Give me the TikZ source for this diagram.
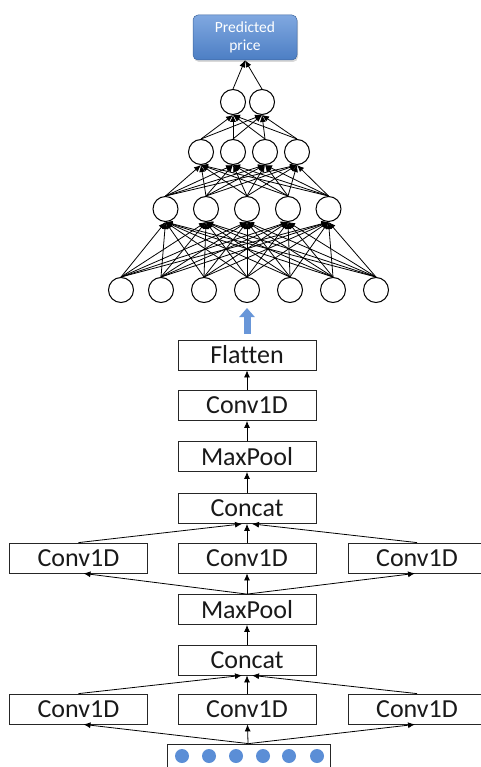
\documentclass[tikz,border=0pt]{standalone}
\usepackage{fontspec}
\setmainfont{Carlito}[Ligatures=NoCommon]
\usetikzlibrary{arrows.meta,shadows}
\definecolor{dotblue}{RGB}{91,142,214}
\definecolor{arrowblue}{RGB}{104,150,216}
\definecolor{predtop}{RGB}{128,168,224}
\definecolor{predbot}{RGB}{76,126,196}
\tikzset{
	layer/.style={draw=black!85, line width=0.8pt, minimum width=138pt, minimum height=30pt,
		inner sep=0pt, font=\fontsize{26}{28}\selectfont, text=black!90},
	neuron/.style={draw, circle, line width=1pt, minimum size=25pt, inner sep=0pt},
	edge/.style={-{Latex[length=7pt,width=6pt]}, line width=0.8pt},
	flow/.style={-{Latex[length=7pt,width=6pt]}, line width=0.8pt},
}

\begin{document}
\begin{tikzpicture}[x=1pt,y=-1pt]
	\clip (0,0) rectangle (481,767);
	% output box
	\node[rounded corners=5pt, top color=predtop, bottom color=predbot, draw=predbot!80!black,
		line width=0.5pt, minimum width=104pt, minimum height=45pt, align=center, text=white,
		font=\fontsize{15.5}{18}\selectfont,
		drop shadow={opacity=0.3, shadow xshift=1pt, shadow yshift=-2pt}]
		(pred) at (245,37.5) {Predicted\\price};
	% dense layers
	\foreach \x [count=\k] in {121,161,204,247,290,333,376}
		\node[neuron] (i\k) at (\x,290) {};
	\foreach \x [count=\k] in {165.5,206,247,288,328.5}
		\node[neuron] (a\k) at (\x,209) {};
	\foreach \x [count=\k] in {201,233,265,297}
		\node[neuron] (b\k) at (\x,152) {};
	\foreach \x [count=\k] in {233,262}
		\node[neuron] (c\k) at (\x,102) {};
	\foreach \s in {1,...,7}
		\foreach \t in {1,...,5}
			\draw[edge] (i\s.north) -- (a\t.south);
	\foreach \s in {1,...,5}
		\foreach \t in {1,...,4}
			\draw[edge] (a\s.north) -- (b\t.south);
	\foreach \s in {1,...,4}
		\foreach \t in {1,2}
			\draw[edge] (b\s.north) -- (c\t.south);
	\foreach \s in {1,2}
		\draw[edge] (c\s.north) -- (pred.south);
	% conv stack
	\node[layer] (flatten) at (247,355) {Flatten};
	\node[layer] (conv) at (247,405.5) {Conv1D};
	\node[layer] (pooltwo) at (247,456.5) {MaxPool};
	\node[layer] (cattwo) at (247,508.5) {Concat};
	\node[layer] (convltwo) at (78.5,558) {Conv1D};
	\node[layer] (convmtwo) at (247,558) {Conv1D};
	\node[layer] (convrtwo) at (417,558) {Conv1D};
	\node[layer] (poolone) at (247,609.5) {MaxPool};
	\node[layer] (catone) at (247,660) {Concat};
	\node[layer] (convlone) at (78.5,709) {Conv1D};
	\node[layer] (convmone) at (247,709) {Conv1D};
	\node[layer] (convrone) at (417,709) {Conv1D};
	\node[draw=black!85, line width=0.8pt, minimum width=163pt, minimum height=32pt, inner sep=0pt]
		(input) at (248.5,760) {};
	\foreach \x [count=\k] in {182,209,236,263,289,317}
		\node[circle, fill=dotblue, minimum size=14pt, inner sep=0pt] (d\k) at (\x,756) {};
	% connections
	\draw[line width=7pt, arrowblue, -{Triangle[length=9pt,width=15pt]}]
		([yshift=6pt]flatten.north) -- ([yshift=-5pt]i4.south);
	\draw[flow] (conv) -- (flatten);
	\draw[flow] (pooltwo) -- (conv);
	\draw[flow] (cattwo) -- (pooltwo);
	\draw[flow] (convltwo.north) -- ([xshift=-5pt]cattwo.south);
	\draw[flow] (convmtwo) -- (cattwo);
	\draw[flow] (convrtwo.north) -- ([xshift=5pt]cattwo.south);
	\draw[flow] (poolone.north) -- ([xshift=5pt]convltwo.south);
	\draw[flow] (poolone) -- (convmtwo);
	\draw[flow] (poolone.north) -- ([xshift=-2pt]convrtwo.south);
	\draw[flow] (catone) -- (poolone);
	\draw[flow] (convlone.north) -- ([xshift=-5pt]catone.south);
	\draw[flow] (convmone) -- (catone);
	\draw[flow] (convrone.north) -- ([xshift=5pt]catone.south);
	\draw[flow] (input.north) -- ([xshift=5pt]convlone.south);
	\draw[flow] (input) -- (convmone);
	\draw[flow] (input.north) -- ([xshift=-2pt]convrone.south);
\end{tikzpicture}
\end{document}
